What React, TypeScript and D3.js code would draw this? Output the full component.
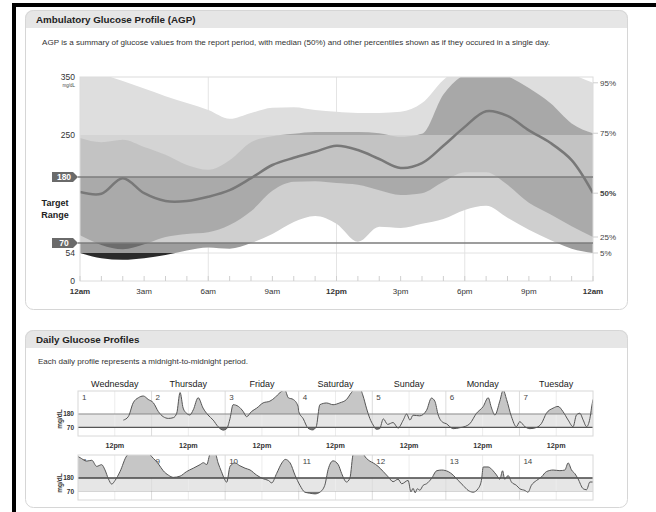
import React from 'react';
import * as d3 from 'd3';

// AGP percentiles, one value per hour (12am .. 12am)
const hours = [0, 1, 2, 3, 4, 5, 6, 7, 8, 9, 10, 11, 12, 13, 14, 15, 16, 17, 18, 19, 20, 21, 22, 23, 24];
const p95 = [365, 355, 343, 330, 317, 305, 293, 278, 288, 297, 298, 293, 290, 288, 288, 290, 305, 345, 370, 380, 380, 375, 370, 355, 340];
const p75 = [245, 238, 242, 230, 217, 200, 192, 208, 238, 248, 252, 255, 255, 255, 253, 247, 252, 320, 355, 370, 352, 331, 305, 270, 253];
const p50 = [155, 152, 178, 153, 140, 140, 147, 158, 178, 200, 212, 222, 232, 225, 210, 195, 203, 232, 264, 291, 283, 258, 237, 208, 153];
const p25 = [83, 67, 60, 68, 80, 85, 88, 100, 123, 157, 172, 173, 170, 167, 158, 150, 153, 172, 188, 188, 167, 137, 118, 98, 80];
const p05 = [54, 44, 41, 44, 50, 58, 63, 61, 70, 85, 105, 115, 102, 72, 97, 95, 102, 110, 125, 132, 112, 92, 75, 61, 54];

const pctLabels = ['95%', '75%', '50%', '25%', '5%'];
const xTickHours = [0, 3, 6, 9, 12, 15, 18, 21, 24];
const xTickLabels = ['12am', '3am', '6am', '9am', '12pm', '3pm', '6pm', '9pm', '12am'];
const yTickValues = [350, 250, 54, 0];

const dayNames = ['Wednesday', 'Thursday', 'Friday', 'Saturday', 'Sunday', 'Monday', 'Tuesday'];

// daily traces: [hour of day, mg/dL]
const day1 = [[14.8, 130], [16.4, 158], [18, 271], [19.7, 313], [21.3, 327], [22.9, 299]];
const day2 = [[0.6, 271], [2.2, 200], [3.8, 158], [5.5, 144], [7.1, 150], [8.2, 186], [9.3, 355], [10.3, 228], [11.4, 186], [12.5, 172], [13.6, 214], [15.2, 313], [16.8, 228], [18.4, 172], [20.1, 130], [21.7, 76], [23.4, 48]];
const day3 = [[0.5, 60], [1.6, 144], [2.6, 256], [4.3, 242], [5.9, 200], [7, 158], [8.6, 200], [10.3, 228], [12.4, 271], [14.6, 285], [16.2, 313], [17.9, 355], [19.5, 375], [20.6, 313], [22.2, 299], [23.8, 242]];
const day4 = [[0, 200], [1.5, 140], [3, 65], [4.5, 50], [5.7, 75], [6.9, 256], [9.1, 270], [11.2, 256], [13.4, 271], [15.6, 299], [17.2, 355], [18.3, 385], [20, 385], [21, 327], [22.1, 228], [23.2, 144]];
const day5 = [[0.3, 89], [1.3, 55], [2.4, 60], [3.6, 140], [5, 95], [6.8, 110], [8.4, 65], [10.1, 130], [11.2, 180], [12.3, 130], [13.3, 170], [15.5, 165], [17.7, 210], [19.3, 310], [20.4, 285], [21.5, 172], [23.1, 110]];
const day6 = [[0.2, 100], [1.2, 78], [2.4, 60], [4.6, 68], [6.5, 80], [7.8, 100], [10, 186], [12.2, 242], [13.8, 313], [14.9, 228], [16, 172], [17.6, 285], [18.7, 375], [19.8, 299], [21.4, 158], [23, 76]];
const day7 = [[0.1, 117], [1.8, 76], [3.4, 60], [5.6, 70], [7.2, 103], [8.8, 186], [11, 228], [12.6, 242], [14.2, 200], [15.9, 130], [17.5, 76], [18.6, 172], [19.7, 186], [20.8, 130], [21.9, 76], [23, 144], [23.5, 228], [24, 299]];
const day8 = [[0, 355], [0.7, 346], [2.8, 318], [4.5, 325], [6.1, 275], [7.7, 289], [8.8, 246], [9.9, 174], [11, 130], [12.1, 160], [13.7, 232], [15.9, 361], [17.5, 385], [20.2, 385], [22.4, 385]];
const day9 = [[0.6, 340], [2.2, 296], [3.8, 239], [5.5, 203], [7.1, 185], [9.3, 195], [11.4, 232], [13.6, 260], [15.8, 289], [16.9, 305], [18, 290], [19.1, 375], [20.7, 385], [21.7, 303], [22.8, 232], [23.9, 165]];
const day10 = [[0.5, 145], [1.6, 275], [3.2, 303], [4.8, 280], [6.5, 260], [8.1, 246], [10.3, 203], [12.4, 174], [14.1, 160], [15.2, 140], [16.8, 217], [18.5, 303], [19.6, 332], [21.2, 303], [22.8, 203]];
const day11 = [[0.4, 120], [2, 64], [3.6, 56], [5.3, 50], [6.9, 64], [8.5, 120], [9.6, 250], [11.2, 320], [12.9, 289], [14, 217], [15.6, 147], [16.7, 180], [17.8, 375], [18.9, 385], [20.5, 385], [22.1, 340], [23.2, 318]];
const day12 = [[0.3, 303], [1.9, 275], [3.6, 232], [5.2, 189], [6.8, 150], [8.4, 170], [9.6, 133], [11.7, 160], [12.6, 66], [13.3, 95], [14, 60], [14.7, 92], [15.5, 80], [16.6, 120], [17.7, 133], [19.3, 175], [21, 239], [22.6, 245]];
const day13 = [[0.8, 232], [2.4, 203], [4, 160], [5.6, 120], [7.3, 78], [8.9, 64], [10.5, 92], [11.6, 160], [12.2, 270], [13.8, 270], [15.4, 239], [16.5, 205], [17.6, 170], [18.5, 239], [19.2, 170], [20.3, 200], [21.4, 147], [23, 120]];
const day14 = [[0.1, 92], [1.8, 78], [2.8, 64], [3.9, 120], [5.6, 160], [7.2, 189], [8.8, 232], [11, 245], [13.2, 240], [14.8, 245], [15.9, 303], [17, 245], [18.1, 215], [19.1, 174], [20.8, 92], [21.9, 84], [23, 147], [24, 147]];

const week1 = [day1, day2, day3, day4, day5, day6, day7];
const week2 = [day8, day9, day10, day11, day12, day13, day14];

const FONT = "'Liberation Sans', Arial, Helvetica, sans-serif";

const Panel: React.FC<{ x: number; y: number; w: number; h: number; title: string }> = ({ x, y, w, h, title, children }) => (
  <g>
    <rect x={x} y={y} width={w} height={h} rx={8} fill="#fff" />
    <rect x={x} y={y} width={w} height={18} rx={8} fill="#e6e6e6" />
    <rect x={x} y={y + 9} width={w} height={9} fill="#e6e6e6" />
    <rect x={x + 0.5} y={y + 0.5} width={w - 1} height={h - 1} rx={8} fill="none" stroke="#d6d6d6" />
    <text x={x + 11} y={y + 13} fontSize={9.8} fontWeight="bold" fill="#222">{title}</text>
    {children}
  </g>
);

const WeekRow: React.FC<{ days: number[][][]; top: number; id: string; firstNum: number; darkHigh: boolean }> = ({ days, top, id, firstNum, darkHigh }) => {
  const left = 78, right = 593, h = 45;
  const x = d3.scaleLinear().domain([0, 168]).range([left, right]);
  const y = d3.scaleLinear().domain([0, 368]).range([top + h, top]);
  const pts: [number, number][] = [];
  days.forEach((d, i) => d.forEach(([hr, v]) => pts.push([i * 24 + hr, v])));
  const line = d3.line<[number, number]>().x(d => x(d[0])).y(d => y(d[1])).curve(d3.curveMonotoneX);
  const above = d3.area<[number, number]>().x(d => x(d[0])).y0(y(180)).y1(d => y(d[1])).curve(d3.curveMonotoneX);
  const below = d3.area<[number, number]>().x(d => x(d[0])).y0(y(70)).y1(d => y(d[1])).curve(d3.curveMonotoneX);
  return (
    <g>
      <defs>
        <clipPath id={`${id}-box`}><rect x={left} y={top} width={right - left} height={h} /></clipPath>
        <clipPath id={`${id}-hi`}><rect x={left} y={top} width={right - left} height={y(180) - top} /></clipPath>
        <clipPath id={`${id}-lo`}><rect x={left} y={y(70)} width={right - left} height={top + h - y(70)} /></clipPath>
      </defs>
      <rect x={left} y={y(180)} width={right - left} height={y(70) - y(180)} fill="#e6e6e6" />
      {days.map((_, i) => (
        <g key={i}>
          <line x1={x(i * 24 + 12)} x2={x(i * 24 + 12)} y1={top} y2={top + h} stroke="#ececec" />
          {i > 0 && <line x1={x(i * 24)} x2={x(i * 24)} y1={top} y2={top + h} stroke="#dcdcdc" />}
          <text x={x(i * 24) + 4} y={top + 9} fontSize={8} fill="#444">{firstNum + i}</text>
        </g>
      ))}
      <g clipPath={`url(#${id}-box)`}>
        <path d={above(pts) || ''} fill="#c6c6c6" clipPath={`url(#${id}-hi)`} />
        <path d={below(pts) || ''} fill="#777" clipPath={`url(#${id}-lo)`} />
      </g>
      <line x1={left} x2={right} y1={y(180)} y2={y(180)} stroke={darkHigh ? '#444' : '#8a8a8a'} strokeWidth={darkHigh ? 1.4 : 1} />
      {!darkHigh && <line x1={left} x2={right} y1={y(70)} y2={y(70)} stroke="#555" strokeWidth={1.2} />}
      <g clipPath={`url(#${id}-box)`}>
        <path d={line(pts) || ''} fill="none" stroke="#555" strokeWidth={1} />
      </g>
      <rect x={left} y={top} width={right - left} height={h} fill="none" stroke="#d8d8d8" />
      <text x={74} y={y(180) + 2.5} fontSize={6.5} fontWeight="bold" textAnchor="end" fill="#333">180</text>
      <text x={74} y={y(70) + 2.5} fontSize={6.5} fontWeight="bold" textAnchor="end" fill="#333">70</text>
      <text transform={`translate(62,${top + 28}) rotate(-90)`} fontSize={6.5} fontWeight="bold" textAnchor="middle" fill="#333">mg/dL</text>
    </g>
  );
};

const App: React.FC = () => {
  const x = d3.scaleLinear().domain([0, 24]).range([80, 593]);
  const y = d3.scaleLinear().domain([0, 54, 70, 180, 250, 350]).range([281, 253, 243, 177, 135, 77]);
  const top = y(350), bottom = y(0), left = x(0), right = x(24);
  const idx = hours.map((_, i) => i);

  const band = (lo: number[], hi: number[]) =>
    d3.area<number>().x(i => x(hours[i])).y0(i => y(lo[i])).y1(i => y(hi[i])).curve(d3.curveMonotoneX)(idx) || '';
  const outer = band(p05, p95);
  const inner = band(p25, p75);
  const median = d3.line<number>().x(i => x(hours[i])).y(i => y(p50[i])).curve(d3.curveCatmullRom)(idx) || '';

  // zones by glucose value: >250, 180-250, 70-180, 54-70, <54
  const zones = [
    { lo: 250, hi: 500, outer: '#dedede', inner: '#a8a8a8' },
    { lo: 180, hi: 250, outer: '#d4d4d4', inner: '#c3c3c3' },
    { lo: 70, hi: 180, outer: '#cfcfcf', inner: '#aaaaaa' },
    { lo: 54, hi: 70, outer: '#9d9d9d', inner: '#6c6c6c' },
    { lo: -60, hi: 54, outer: '#2a2a2a', inner: '#2a2a2a' },
  ];
  const ends = [p95, p75, p50, p25, p05].map(a => a[a.length - 1]);
  const dayScale = d3.scaleLinear().domain([0, 7]).range([78, 593]);

  const tag = (v: number, label: string) => {
    const cy = y(v);
    return (
      <g>
        <path d={`M52,${cy - 5} H73 L78,${cy} L73,${cy + 5} H52 Z`} fill="#6a6a6a" />
        <text x={64} y={cy + 3} fontSize={8.5} fontWeight="bold" fill="#fff" textAnchor="middle">{label}</text>
      </g>
    );
  };

  return (
    <svg width={656} height={512} style={{ position: 'absolute', left: 0, top: 0, fontFamily: FONT }}>
      <rect width={656} height={512} fill="#fff" />
      <rect x={12} y={3} width={644} height={4} fill="#000" />
      <rect x={12} y={3} width={4} height={509} fill="#000" />

      <Panel x={25} y={10} w={603} h={300} title="Ambulatory Glucose Profile (AGP)">
        <text x={42} y={45} fontSize={6.6} fill="#333" textLength={508} lengthAdjust="spacingAndGlyphs">
          AGP is a summary of glucose values from the report period, with median (50%) and other percentiles shown as if they occured in a single day.
        </text>
      </Panel>

      <defs>
        <clipPath id="plot"><rect x={left} y={top} width={right - left} height={bottom - top} /></clipPath>
        {zones.map((z, i) => (
          <clipPath id={`zone${i}`} key={i}>
            <rect x={left} y={y(Math.min(z.hi, 350)) - (z.hi > 350 ? 10 : 0)} width={right - left} height={y(z.lo) - y(Math.min(z.hi, 350)) + (z.hi > 350 ? 10 : 0)} />
          </clipPath>
        ))}
      </defs>

      {/* grid behind bands */}
      {[6, 12, 18].map(hh => (
        <line key={hh} x1={x(hh)} x2={x(hh)} y1={top} y2={bottom} stroke="#e4e4e4" />
      ))}
      <line x1={left} x2={right} y1={y(54)} y2={y(54)} stroke="#e2e2e2" />

      <g clipPath="url(#plot)">
        {zones.map((z, i) => (
          <g key={i} clipPath={`url(#zone${i})`}>
            <path d={outer} fill={z.outer} />
            <path d={inner} fill={z.inner} />
          </g>
        ))}
        <path d={median} fill="none" stroke="#787878" strokeWidth={2.5} />
      </g>

      <rect x={left} y={top} width={right - left} height={bottom - top} fill="none" stroke="#dcdcdc" />
      <line x1={78} x2={right} y1={y(180)} y2={y(180)} stroke="#7d7d7d" strokeWidth={1.5} />
      <line x1={78} x2={right} y1={y(70)} y2={y(70)} stroke="#7d7d7d" strokeWidth={1.5} />
      {tag(180, '180')}
      {tag(70, '70')}

      {yTickValues.map(v => (
        <text key={v} x={75} y={y(v) + 3} fontSize={8.5} textAnchor="end" fill="#333">{v}</text>
      ))}
      <text x={75} y={y(350) + 10} fontSize={4.5} textAnchor="end" fill="#444">mg/dL</text>
      <text x={55} y={206} fontSize={9} fontWeight="bold" textAnchor="middle" fill="#222">Target</text>
      <text x={55} y={218} fontSize={9} fontWeight="bold" textAnchor="middle" fill="#222">Range</text>

      {hours.map(hh => (
        <line key={hh} x1={x(hh)} x2={x(hh)} y1={bottom - 5} y2={bottom} stroke="#cfcfcf" />
      ))}
      {xTickHours.map((hh, i) => (
        <text key={i} x={x(hh)} y={294} fontSize={8} textAnchor="middle" fill="#333"
          fontWeight={hh % 12 === 0 ? 'bold' : 'normal'}>{xTickLabels[i]}</text>
      ))}

      {pctLabels.map((p, i) => (
        <g key={p}>
          <line x1={right} x2={right + 5} y1={y(ends[i])} y2={y(ends[i])} stroke="#cfcfcf" />
          <text x={600} y={y(ends[i]) + 3} fontSize={8} fill="#444" fontWeight={i === 2 ? 'bold' : 'normal'}>{p}</text>
        </g>
      ))}

      <Panel x={25} y={330} w={603} h={178} title="Daily Glucose Profiles">
        <text x={38} y={364} fontSize={6.8} fill="#333" textLength={210} lengthAdjust="spacingAndGlyphs">
          Each daily profile represents a midnight-to-midnight period.
        </text>
      </Panel>

      {dayNames.map((d, i) => (
        <g key={d}>
          <text x={dayScale(i + 0.5)} y={387} fontSize={9} textAnchor="middle" fill="#222">{d}</text>
          <text x={dayScale(i + 0.5)} y={448} fontSize={7.2} fontWeight="bold" textAnchor="middle" fill="#333">12pm</text>
        </g>
      ))}

      <WeekRow days={week1} top={391} id="w1" firstNum={1} darkHigh={false} />
      <WeekRow days={week2} top={455} id="w2" firstNum={8} darkHigh={true} />
    </svg>
  );
};

export default App;
